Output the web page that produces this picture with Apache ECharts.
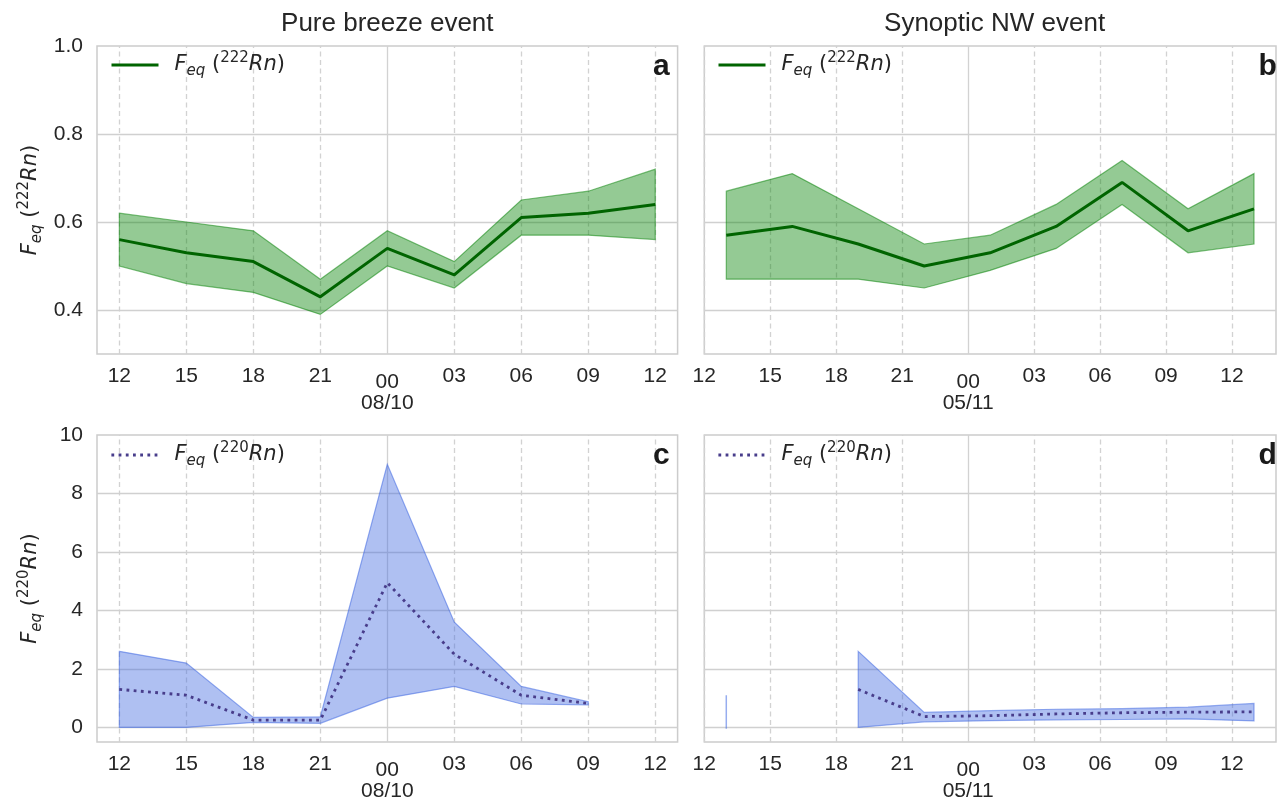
<!DOCTYPE html>
<html>
<head>
<meta charset="utf-8">
<script src="https://cdn.jsdelivr.net/npm/echarts@6/dist/echarts.min.js"></script>
<style>html,body{margin:0;padding:0;background:#fff;}#chart{width:1279px;height:803px;}</style>
</head>
<body>
<div id="chart"></div>
<script>
// ---- data ----
const xTickHours = [12, 15, 18, 21, 24, 27, 30, 33, 36];
const xTickLabels = ['12', '15', '18', '21', '00', '03', '06', '09', '12'];
const dateLeft = '08/10';
const dateRight = '05/11';
const yTicksRn222 = [0.4, 0.6, 0.8, 1.0];
const yTicksRn220 = [0, 2, 4, 6, 8, 10];

const hoursA = [12, 15, 18, 21, 24, 27, 30, 33, 36];
const meanA  = [0.56, 0.53, 0.51, 0.43, 0.54, 0.48, 0.61, 0.62, 0.64];
const upperA = [0.62, 0.60, 0.58, 0.47, 0.58, 0.51, 0.65, 0.67, 0.72];
const lowerA = [0.50, 0.46, 0.44, 0.39, 0.50, 0.45, 0.57, 0.57, 0.56];

const hoursB = [13, 16, 19, 22, 25, 28, 31, 34, 37];
const meanB  = [0.57, 0.59, 0.55, 0.50, 0.53, 0.59, 0.69, 0.58, 0.63];
const upperB = [0.67, 0.71, 0.63, 0.55, 0.57, 0.64, 0.74, 0.63, 0.71];
const lowerB = [0.47, 0.47, 0.47, 0.45, 0.49, 0.54, 0.64, 0.53, 0.55];

const hoursC = [12, 15, 18, 21, 24, 27, 30, 33];
const meanC  = [1.3, 1.1, 0.25, 0.25, 4.95, 2.5, 1.1, 0.82];
const upperC = [2.6, 2.2, 0.34, 0.36, 9.0, 3.6, 1.4, 0.88];
const lowerC = [0.0, 0.0, 0.17, 0.14, 1.0, 1.4, 0.8, 0.77];

const hoursD = [13, 16, 19, 22, 25, 28, 31, 34, 37];
const meanD  = [null, null, 1.3, 0.37, 0.40, 0.46, 0.50, 0.52, 0.53];
const upperD = [1.1, null, 2.6, 0.51, 0.57, 0.62, 0.64, 0.69, 0.82];
const lowerD = [-0.05, null, 0.0, 0.19, 0.23, 0.26, 0.27, 0.29, 0.22];

// ---- styling ----
const TXT = '#262626';
const FONT = 'Liberation Sans';
const MATH = 'DejaVu Sans';
const GREEN_LINE = '#006400';
const GREEN_FILL = 'rgba(0,128,0,0.42)';
const GREEN_EDGE = 'rgba(0,128,0,0.5)';
const BLUE_LINE = '#483d8b';
const BLUE_FILL = 'rgba(65,105,225,0.42)';
const BLUE_EDGE = 'rgba(65,105,225,0.55)';
const DOTS = [2.8, 4.4];

const mathRich = {
  it:  { fontFamily: MATH, fontStyle: 'italic', fontSize: 21, lineHeight: 32, color: TXT, verticalAlign: 'middle' },
  n:   { fontFamily: MATH, fontSize: 21, lineHeight: 32, color: TXT, verticalAlign: 'middle' },
  sub: { fontFamily: MATH, fontStyle: 'italic', fontSize: 15, color: TXT, verticalAlign: 'bottom', padding: [0, 0, 2, 0] },
  sup: { fontFamily: MATH, fontSize: 15, color: TXT, verticalAlign: 'top', padding: [2, 0, 0, 0] },
  sp:  { width: 11 }
};
function mathLabel(iso) {
  return '{it|F}{sub|eq}{n| (}{sup|' + iso + '}{it|Rn}{n|)}';
}

const gridA = { left: 97, top: 46, width: 580.6, height: 308 };
const gridB = { left: 704.3, top: 46, width: 580.6, height: 308 };
const gridC = { left: 97, top: 435, width: 580.6, height: 307 };
const gridD = { left: 704.3, top: 435, width: 580.6, height: 307 };
const grids = [gridA, gridB, gridC, gridD];

function xAxisFor(idx, min, max, date) {
  return {
    type: 'value', gridIndex: idx, min: min, max: max, interval: 1,
    axisLine: { show: false }, axisTick: { show: false }, splitLine: { show: false },
    axisLabel: {
      margin: 12, color: TXT, fontFamily: FONT, fontSize: 21,
      formatter: function (v) {
        const k = xTickHours.indexOf(Math.round(v));
        if (k < 0 || Math.abs(v - Math.round(v)) > 1e-6) return '';
        if (xTickHours[k] === 24) return '{maj|' + xTickLabels[k] + '}\n{date|' + date + '}';
        return xTickLabels[k];
      },
      rich: {
        maj: { fontFamily: FONT, fontSize: 21, color: TXT, lineHeight: 33 },
        date: { fontFamily: FONT, fontSize: 21, color: TXT, lineHeight: 9 }
      }
    }
  };
}
function yAxisFor(idx, min, max, step, ticks, showLabels, iso, decimals) {
  return {
    type: 'value', gridIndex: idx, min: min, max: max, interval: step,
    axisLine: { show: false }, axisTick: { show: false }, splitLine: { show: false },
    axisLabel: {
      show: showLabels, margin: 14, color: TXT, fontFamily: FONT, fontSize: 21,
      formatter: function (v) {
        for (const t of ticks) { if (Math.abs(v - t) < 1e-6) return t.toFixed(decimals); }
        return '';
      }
    },
    name: showLabels ? mathLabel(iso) : '',
    nameLocation: 'middle', nameRotate: 90, nameGap: 50,
    nameTextStyle: { rich: mathRich }
  };
}

function gridLines(yTicks) {
  const data = [];
  xTickHours.forEach(function (h) {
    data.push({ xAxis: h, lineStyle: { color: '#d2d2d2', width: 1.3, type: h === 24 ? 'solid' : [5, 3.5] } });
  });
  yTicks.forEach(function (t) {
    data.push({ yAxis: t, lineStyle: { color: '#d0d0d0', width: 1.4, type: 'solid' } });
  });
  return { silent: true, z: 1, symbol: ['none', 'none'], label: { show: false }, animation: false, data: data };
}

function bandSeries(idx, hours, lower, upper, fill, edge) {
  return {
    type: 'custom', xAxisIndex: idx, yAxisIndex: idx, z: 2, silent: true, animation: false,
    data: hours.map(function (h, k) { return [h, lower[k], upper[k]]; }),
    renderItem: function (params, api) {
      if (params.dataIndex !== 0) return null;
      const segs = [];
      let cur = [];
      for (let k = 0; k < hours.length; k++) {
        if (upper[k] == null || lower[k] == null) { if (cur.length) segs.push(cur); cur = []; }
        else cur.push(k);
      }
      if (cur.length) segs.push(cur);
      const children = segs.map(function (seg) {
        const pts = [];
        seg.forEach(function (k) { pts.push(api.coord([hours[k], upper[k]])); });
        seg.slice().reverse().forEach(function (k) { pts.push(api.coord([hours[k], lower[k]])); });
        return { type: 'polygon', shape: { points: pts }, style: { fill: fill, stroke: edge, lineWidth: seg.length === 1 ? 1.5 : 1.2 } };
      });
      return { type: 'group', children: children };
    }
  };
}

function meanSeries(idx, name, hours, mean, color, width, dash, yTicks) {
  return {
    type: 'line', name: name, xAxisIndex: idx, yAxisIndex: idx, z: 3,
    data: hours.map(function (h, k) { return [h, mean[k]]; }),
    symbol: 'none', showSymbol: false, connectNulls: false, animation: false, silent: true,
    lineStyle: { color: color, width: width, type: dash, cap: 'butt' },
    itemStyle: { color: color },
    markLine: gridLines(yTicks)
  };
}

function legendFor(left, top, name, iso, color, width, dash) {
  return {
    left: left, top: top, padding: 0, orient: 'vertical', selectedMode: false,
    itemWidth: 47, itemHeight: 14, data: [name],
    itemStyle: { opacity: 0 },
    lineStyle: { color: color, width: width, type: dash, cap: 'butt' },
    formatter: function () { return '{sp|}' + mathLabel(iso); },
    textStyle: { rich: mathRich }
  };
}

const chart = echarts.init(document.getElementById('chart'), null, { renderer: 'canvas' });

const option = {
  backgroundColor: '#ffffff',
  animation: false,
  grid: grids.map(function (g) {
    return { left: g.left, top: g.top, width: g.width, height: g.height, show: true,
             borderColor: '#cccccc', borderWidth: 1.5, backgroundColor: 'transparent', containLabel: false };
  }),
  xAxis: [
    xAxisFor(0, 11, 37, dateLeft),
    xAxisFor(1, 12, 38, dateRight),
    xAxisFor(2, 11, 37, dateLeft),
    xAxisFor(3, 12, 38, dateRight)
  ],
  yAxis: [
    yAxisFor(0, 0.3, 1.0, 0.1, yTicksRn222, true, '222', 1),
    yAxisFor(1, 0.3, 1.0, 0.1, yTicksRn222, false, '222', 1),
    yAxisFor(2, -0.5, 10, 0.5, yTicksRn220, true, '220', 0),
    yAxisFor(3, -0.5, 10, 0.5, yTicksRn220, false, '220', 0)
  ],
  legend: [
    legendFor(110, 51, 'Feq222 a', '222', GREEN_LINE, 3, 'solid'),
    legendFor(717, 51, 'Feq222 b', '222', GREEN_LINE, 3, 'solid'),
    legendFor(110, 441, 'Feq220 c', '220', BLUE_LINE, 2.8, DOTS),
    legendFor(717, 441, 'Feq220 d', '220', BLUE_LINE, 2.8, DOTS)
  ],
  series: [
    bandSeries(0, hoursA, lowerA, upperA, GREEN_FILL, GREEN_EDGE),
    meanSeries(0, 'Feq222 a', hoursA, meanA, GREEN_LINE, 3, 'solid', [0.4, 0.6, 0.8]),
    bandSeries(1, hoursB, lowerB, upperB, GREEN_FILL, GREEN_EDGE),
    meanSeries(1, 'Feq222 b', hoursB, meanB, GREEN_LINE, 3, 'solid', [0.4, 0.6, 0.8]),
    bandSeries(2, hoursC, lowerC, upperC, BLUE_FILL, BLUE_EDGE),
    meanSeries(2, 'Feq220 c', hoursC, meanC, BLUE_LINE, 2.8, DOTS, [0, 2, 4, 6, 8]),
    bandSeries(3, hoursD, lowerD, upperD, BLUE_FILL, BLUE_EDGE),
    meanSeries(3, 'Feq220 d', hoursD, meanD, BLUE_LINE, 2.8, DOTS, [0, 2, 4, 6, 8])
  ],
  graphic: [
    { type: 'text', x: gridA.left + gridA.width / 2, y: 24, style: { text: 'Pure breeze event', textAlign: 'center', textVerticalAlign: 'middle', font: '26px "Liberation Sans"', fill: TXT } },
    { type: 'text', x: gridB.left + gridB.width / 2, y: 24, style: { text: 'Synoptic NW event', textAlign: 'center', textVerticalAlign: 'middle', font: '26px "Liberation Sans"', fill: TXT } },
    { type: 'text', x: gridA.left + gridA.width - 8, y: gridA.top + 21, z: 10, style: { text: 'a', textAlign: 'right', textVerticalAlign: 'middle', font: 'bold 30px "Liberation Sans"', fill: '#1a1a1a' } },
    { type: 'text', x: gridB.left + gridB.width - 8, y: gridB.top + 21, z: 10, style: { text: 'b', textAlign: 'right', textVerticalAlign: 'middle', font: 'bold 30px "Liberation Sans"', fill: '#1a1a1a' } },
    { type: 'text', x: gridC.left + gridC.width - 8, y: gridC.top + 21, z: 10, style: { text: 'c', textAlign: 'right', textVerticalAlign: 'middle', font: 'bold 30px "Liberation Sans"', fill: '#1a1a1a' } },
    { type: 'text', x: gridD.left + gridD.width - 8, y: gridD.top + 21, z: 10, style: { text: 'd', textAlign: 'right', textVerticalAlign: 'middle', font: 'bold 30px "Liberation Sans"', fill: '#1a1a1a' } }
  ]
};
chart.setOption(option);
</script>
</body>
</html>
